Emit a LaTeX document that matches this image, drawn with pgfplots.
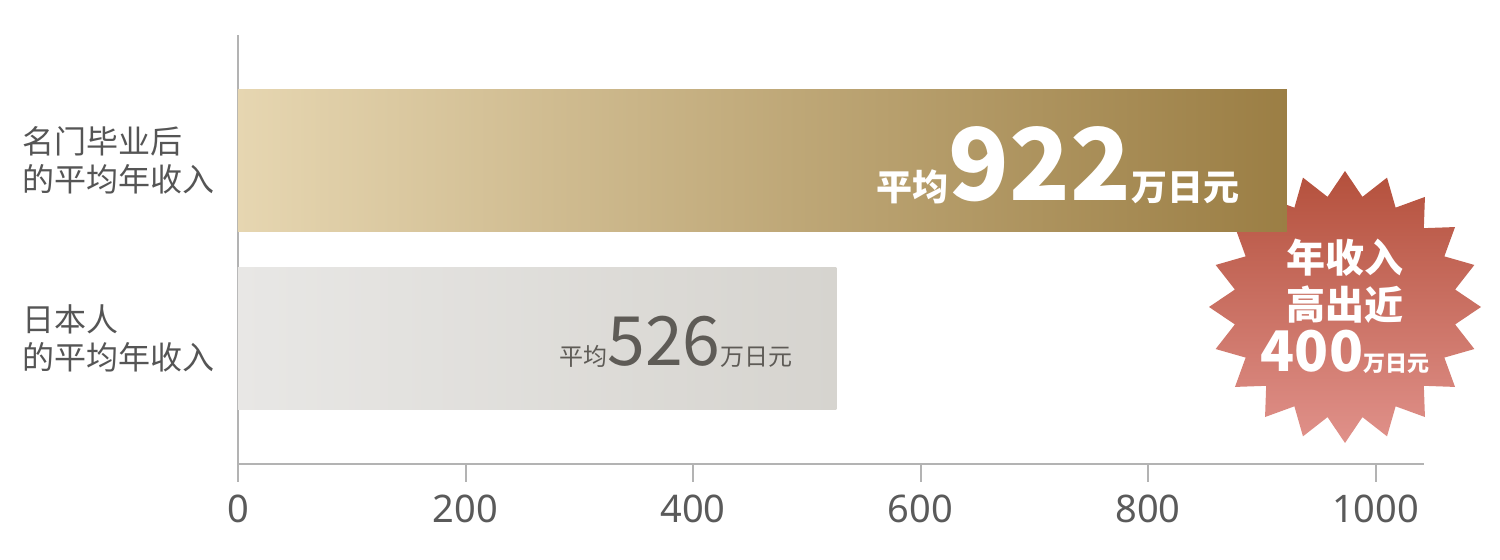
\documentclass[border=0pt]{standalone}
\usepackage{pgfplots}
\pgfplotsset{compat=1.18}
\usepackage{fontspec}
\setmainfont{Noto Sans CJK SC}
\newfontfamily\numfont{Noto Sans}
\usetikzlibrary{shapes.geometric}

\definecolor{axisgray}{HTML}{B3B3B3}
\definecolor{tickgray}{HTML}{5A5A5A}
\definecolor{labelgray}{HTML}{555555}
\definecolor{goldL}{HTML}{E6D6B1}
\definecolor{goldR}{HTML}{9B7E44}
\definecolor{greyL}{HTML}{E8E7E5}
\definecolor{greyR}{HTML}{D6D4CF}
\definecolor{starT}{HTML}{B4503C}
\definecolor{starB}{HTML}{E0918A}
\definecolor{numgray}{HTML}{5E5B56}

\newcommand{\fs}[1]{\fontsize{#1}{#1}\selectfont}

\begin{document}
\begin{tikzpicture}
\useasboundingbox (-119pt,-48pt) rectangle (631pt,232pt);

% starburst, sits behind the top bar
\node[star, star points=20, star point ratio=1.22, minimum size=136pt, inner sep=0pt,
      draw=none, top color=starT, bottom color=starB] at (553.5pt,78.5pt) {};

\begin{axis}[
    scale only axis,
    width=593pt, height=214.5pt,
    xmin=0, xmax=1042.5,
    ymin=-0.705, ymax=1.705,
    axis lines*=left,
    axis line style={-, draw=axisgray, line width=1pt},
    xtick={0,200,400,600,800,1000},
    tick align=outside,
    major tick length=9pt,
    xtick style={draw=axisgray, line width=1pt},
    ytick={0,1},
    yticklabels={{日本人\\的平均年收入},{名门毕业后\\的平均年收入}},
    ytick style={draw=none},
    xticklabel style={font=\numfont\fs{19pt}, text=tickgray, yshift=-3pt},
    yticklabel style={font=\fontsize{16pt}{19pt}\selectfont, text=labelgray,
        align=left, text width=100pt, anchor=west, inner sep=0pt, xshift=-99pt},
    /pgf/number format/assume math mode=true,
    /pgf/number format/1000 sep={},
    clip=false,
]
\addplot[xbar, bar width=71pt, bar shift=0pt, draw=none, left color=goldL, right color=goldR]
    coordinates {(922,1)};
\addplot[xbar, bar width=71pt, bar shift=0pt, draw=none, left color=greyL, right color=greyR]
    coordinates {(526,0)};

\node[anchor=base east, text=white, font=\bfseries, inner sep=0pt] at (axis cs:880.7,0.778)
    {{\fs{18pt}平均}{\fs{50pt}922}{\fs{18pt}万日元}};
\node[anchor=base east, text=numgray, inner sep=0pt] at (axis cs:487.8,-0.154)
    {{\fs{12pt}平均}{\fs{34pt}526}{\fs{12pt}万日元}};
\end{axis}

\node[anchor=base, text=white, font=\bfseries\fs{19.5pt}, inner sep=0pt] at (553.5pt,95.5pt) {年收入};
\node[anchor=base, text=white, font=\bfseries\fs{19.5pt}, inner sep=0pt] at (553.5pt,72pt) {高出近};
\node[anchor=base, text=white, font=\bfseries, inner sep=0pt] at (553.5pt,46pt)
    {{\fs{28pt}400}{\fs{11pt}万日元}};
\end{tikzpicture}
\end{document}
